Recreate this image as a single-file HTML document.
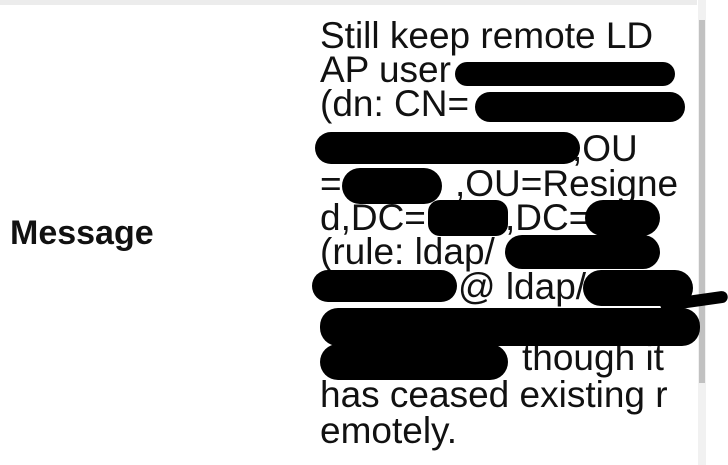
<!DOCTYPE html>
<html><head><meta charset="utf-8"><style>
body{margin:0;width:728px;height:465px;background:#fff;overflow:hidden;position:relative;font-family:"Liberation Sans",sans-serif;}
.top{position:absolute;left:0;top:0;width:697px;height:5px;background:#ececec;}
.track{position:absolute;left:697px;top:0;width:8px;height:465px;background:#f1f1f1;border-left:1px solid #fff;}
.thumb{position:absolute;left:699px;top:20px;width:6px;height:363px;background:#c1c1c1;}
.lbl{position:absolute;left:10px;top:214px;font-size:34px;font-weight:bold;color:#111;}
.l{position:absolute;left:320px;font-size:37px;line-height:36px;color:#111;white-space:nowrap;}
.b{position:absolute;background:#000;border-radius:18px;}
</style></head><body>
<div class="top"></div>
<div class="track"></div><div class="thumb"></div>
<div class="lbl">Message</div>
<div class="l" style="top:18px">Still keep remote LD</div>
<div class="l" style="top:52px">AP user</div>
<div class="l" style="top:86px">(dn: CN=</div>
<div class="l" style="top:131px;left:572px">,OU</div>
<div class="l" style="top:166px">=</div>
<div class="l" style="top:166px;left:455px">,OU=Resigne</div>
<div class="l" style="top:200px">d,DC=</div>
<div class="l" style="top:200px;left:505px">,DC=</div>
<div class="l" style="top:234px">(rule: ldap/</div>
<div class="l" style="top:269px;left:458px">@ ldap/</div>
<div class="l" style="top:340px;left:522px">though it</div>
<div class="l" style="top:377px">has ceased existing r</div>
<div class="l" style="top:413px">emotely.</div>
<div class="b" style="left:455px;top:62px;width:220px;height:24px"></div>
<div class="b" style="left:475px;top:92px;width:210px;height:30px"></div>
<div class="b" style="left:315px;top:132px;width:265px;height:32px"></div>
<div class="b" style="left:342px;top:168px;width:100px;height:36px"></div>
<div class="b" style="left:428px;top:200px;width:80px;height:36px;border-radius:12px"></div>
<div class="b" style="left:585px;top:200px;width:75px;height:36px"></div>
<div class="b" style="left:505px;top:235px;width:155px;height:34px"></div>
<div class="b" style="left:312px;top:270px;width:145px;height:32px"></div>
<div class="b" style="left:583px;top:270px;width:110px;height:36px"></div>
<div class="b" style="left:660px;top:295px;width:68px;height:12px;transform:rotate(-8deg)"></div>
<div class="b" style="left:320px;top:308px;width:380px;height:38px"></div>
<div class="b" style="left:320px;top:344px;width:188px;height:36px"></div>
</body></html>
